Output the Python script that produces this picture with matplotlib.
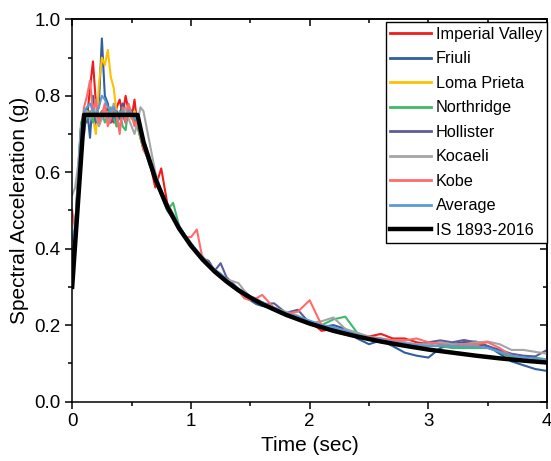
# plot.py
# response spectra of the selected ground motions vs the IS 1893-2016 design spectrum

import matplotlib
matplotlib.use('Agg')
import matplotlib.pyplot as plt
from matplotlib.ticker import MultipleLocator

plt.rcParams['font.family'] = ['Liberation Sans', 'DejaVu Sans']

# time grid (sec): 0.025 steps on the plateau, 0.05 to 1.6, then 0.1
period = [0, 0.025, 0.05, 0.075, 0.1, 0.125, 0.15, 0.175, 0.2, 0.225, 0.25, 0.275,
          0.3, 0.325, 0.35, 0.375, 0.4, 0.425, 0.45, 0.475, 0.5, 0.525, 0.55, 0.575, 0.6,
          0.65, 0.7, 0.75, 0.8, 0.85, 0.9, 0.95, 1.0, 1.05, 1.1, 1.15, 1.2, 1.25, 1.3,
          1.35, 1.4, 1.45, 1.5, 1.55, 1.6,
          1.7, 1.8, 1.9, 2.0, 2.1, 2.2, 2.3, 2.4, 2.5, 2.6, 2.7, 2.8, 2.9, 3.0, 3.1,
          3.2, 3.3, 3.4, 3.5, 3.6, 3.7, 3.8, 3.9, 4.0]

imperial_valley = [0.32, 0.40, 0.55, 0.70, 0.76, 0.74, 0.82, 0.89, 0.78, 0.74, 0.76, 0.75,
                   0.77, 0.74, 0.73, 0.77, 0.79, 0.75, 0.80, 0.76, 0.74, 0.79, 0.72, 0.69, 0.66,
                   0.63, 0.56, 0.61, 0.52, 0.49, 0.46, 0.43, 0.41, 0.39, 0.37, 0.36, 0.34, 0.33, 0.32,
                   0.305, 0.29, 0.28, 0.275, 0.265, 0.255,
                   0.245, 0.23, 0.215, 0.21, 0.185, 0.19, 0.18, 0.175, 0.17, 0.177, 0.165, 0.165, 0.155, 0.15, 0.155,
                   0.15, 0.155, 0.15, 0.145, 0.13, 0.115, 0.11, 0.105, 0.10]
friuli = [0.35, 0.42, 0.55, 0.72, 0.70, 0.77, 0.69, 0.80, 0.72, 0.78, 0.95, 0.80,
          0.78, 0.73, 0.76, 0.72, 0.75, 0.78, 0.73, 0.77, 0.76, 0.74, 0.73, 0.70, 0.67,
          0.62, 0.58, 0.54, 0.50, 0.48, 0.45, 0.43, 0.41, 0.39, 0.37, 0.355, 0.34, 0.325, 0.315,
          0.30, 0.29, 0.275, 0.265, 0.255, 0.25,
          0.245, 0.23, 0.22, 0.21, 0.195, 0.20, 0.19, 0.165, 0.15, 0.16, 0.145, 0.128, 0.12, 0.115, 0.14,
          0.15, 0.155, 0.157, 0.145, 0.125, 0.105, 0.095, 0.085, 0.08]
loma_prieta = [0.33, 0.42, 0.58, 0.72, 0.74, 0.76, 0.75, 0.74, 0.70, 0.83, 0.90, 0.88,
               0.92, 0.85, 0.82, 0.75, 0.74, 0.76, 0.75, 0.77, 0.74, 0.76, 0.74, 0.70, 0.67,
               0.64, 0.59, 0.55, 0.51, 0.48, 0.455, 0.43, 0.41, 0.39, 0.372, 0.355, 0.34, 0.327, 0.314,
               0.30, 0.29, 0.28, 0.27, 0.262, 0.254,
               0.24, 0.226, 0.213, 0.202, 0.192, 0.183, 0.175, 0.168, 0.162, 0.156, 0.15, 0.145, 0.14, 0.135, 0.131,
               0.127, 0.123, 0.119, 0.115, 0.112, 0.109, 0.106, 0.104, 0.101]
northridge = [0.38, 0.45, 0.60, 0.73, 0.75, 0.74, 0.76, 0.73, 0.75, 0.74, 0.76, 0.73,
              0.75, 0.77, 0.74, 0.72, 0.76, 0.72, 0.71, 0.77, 0.75, 0.73, 0.72, 0.69, 0.66,
              0.63, 0.59, 0.55, 0.50, 0.52, 0.46, 0.435, 0.41, 0.39, 0.375, 0.36, 0.345, 0.33, 0.315,
              0.305, 0.295, 0.285, 0.275, 0.265, 0.258,
              0.245, 0.23, 0.22, 0.205, 0.20, 0.215, 0.222, 0.18, 0.165, 0.16, 0.155, 0.15, 0.145, 0.145, 0.145,
              0.14, 0.14, 0.14, 0.14, 0.13, 0.115, 0.118, 0.115, 0.11]
hollister = [0.36, 0.45, 0.60, 0.72, 0.74, 0.73, 0.75, 0.76, 0.73, 0.75, 0.74, 0.76,
             0.75, 0.73, 0.75, 0.76, 0.74, 0.75, 0.73, 0.76, 0.75, 0.74, 0.73, 0.70, 0.67,
             0.63, 0.585, 0.545, 0.51, 0.48, 0.455, 0.43, 0.41, 0.39, 0.375, 0.368, 0.342, 0.362, 0.325,
             0.31, 0.295, 0.285, 0.275, 0.265, 0.255,
             0.257, 0.232, 0.24, 0.205, 0.195, 0.19, 0.18, 0.175, 0.165, 0.16, 0.155, 0.15, 0.145, 0.155, 0.16,
             0.155, 0.161, 0.155, 0.145, 0.135, 0.125, 0.12, 0.118, 0.135]
kocaeli = [0.54, 0.56, 0.62, 0.72, 0.75, 0.76, 0.74, 0.77, 0.75, 0.72, 0.74, 0.76,
           0.73, 0.75, 0.78, 0.74, 0.72, 0.75, 0.77, 0.74, 0.72, 0.70, 0.73, 0.77, 0.76,
           0.68, 0.60, 0.55, 0.51, 0.485, 0.46, 0.435, 0.415, 0.395, 0.38, 0.36, 0.345, 0.33, 0.32,
           0.315, 0.31, 0.29, 0.275, 0.27, 0.26,
           0.245, 0.235, 0.225, 0.205, 0.21, 0.22, 0.19, 0.18, 0.17, 0.165, 0.16, 0.155, 0.15, 0.15, 0.155,
           0.15, 0.15, 0.155, 0.157, 0.15, 0.135, 0.135, 0.13, 0.125]
kobe = [0.50, 0.45, 0.58, 0.70, 0.77, 0.80, 0.84, 0.76, 0.79, 0.73, 0.75, 0.78,
        0.72, 0.74, 0.77, 0.75, 0.70, 0.77, 0.73, 0.78, 0.75, 0.72, 0.74, 0.70, 0.66,
        0.63, 0.58, 0.55, 0.51, 0.48, 0.455, 0.43, 0.43, 0.45, 0.37, 0.36, 0.345, 0.33, 0.315,
        0.30, 0.29, 0.27, 0.265, 0.27, 0.279,
        0.245, 0.23, 0.235, 0.265, 0.20, 0.185, 0.18, 0.17, 0.17, 0.165, 0.16, 0.16, 0.165, 0.155, 0.15,
        0.145, 0.15, 0.15, 0.155, 0.14, 0.12, 0.115, 0.11, 0.105]
average = [0.42, 0.46, 0.58, 0.71, 0.76, 0.77, 0.78, 0.76, 0.75, 0.77, 0.80, 0.79,
           0.77, 0.76, 0.77, 0.75, 0.75, 0.76, 0.75, 0.76, 0.75, 0.74, 0.74, 0.71, 0.68,
           0.64, 0.59, 0.55, 0.515, 0.49, 0.46, 0.435, 0.415, 0.395, 0.375, 0.36, 0.345, 0.335, 0.32,
           0.305, 0.295, 0.285, 0.275, 0.265, 0.26,
           0.245, 0.232, 0.222, 0.212, 0.20, 0.195, 0.185, 0.175, 0.167, 0.163, 0.156, 0.152, 0.148, 0.145, 0.147,
           0.145, 0.145, 0.145, 0.14, 0.13, 0.12, 0.115, 0.112, 0.11]

# IS 1893-2016 design spectrum (medium soil)
is_period = [0, 0.1, 0.55, 0.6, 0.7, 0.8, 0.9, 1.0, 1.1, 1.2, 1.3, 1.4, 1.5, 1.6, 1.8,
             2.0, 2.2, 2.4, 2.6, 2.8, 3.0, 3.2, 3.4, 3.6, 3.8, 4.0]
is_code = [0.30, 0.75, 0.75, 0.68, 0.583, 0.51, 0.453, 0.408, 0.371, 0.34, 0.314, 0.291, 0.272, 0.255, 0.227,
           0.204, 0.185, 0.17, 0.157, 0.146, 0.136, 0.128, 0.12, 0.113, 0.107, 0.102]

records = [
    ('Imperial Valley', imperial_valley, '#ee1c1c'),
    ('Friuli', friuli, '#2f5f9c'),
    ('Loma Prieta', loma_prieta, '#ffc000'),
    ('Northridge', northridge, '#3dba6a'),
    ('Hollister', hollister, '#5c5c9c'),
    ('Kocaeli', kocaeli, '#a5a5a5'),
    ('Kobe', kobe, '#ff6b6b'),
    ('Average', average, '#5b9bd5'),
]

fig, ax = plt.subplots(figsize=(5.51, 4.61), dpi=100)
fig.subplots_adjust(left=0.131, right=0.993, bottom=0.129, top=0.958)

for name, vals, col in records:
    ax.plot(period, vals, color=col, lw=1.5, label=name)
ax.plot(is_period, is_code, color='black', lw=3.2, label='IS 1893-2016')

ax.set_xlim(0, 4)
ax.set_ylim(0, 1.0)
ax.xaxis.set_major_locator(MultipleLocator(1))
ax.xaxis.set_minor_locator(MultipleLocator(0.5))
ax.yaxis.set_major_locator(MultipleLocator(0.2))
ax.yaxis.set_minor_locator(MultipleLocator(0.1))
ax.yaxis.set_major_formatter(plt.FormatStrFormatter('%.1f'))
ax.tick_params(which='major', direction='out', length=5, width=1.1, labelsize=13.5)
ax.tick_params(which='minor', direction='out', length=3, width=1.1)

# mirrored inward ticks on top and right
top = ax.secondary_xaxis('top')
top.xaxis.set_major_locator(MultipleLocator(1))
top.xaxis.set_minor_locator(MultipleLocator(0.5))
top.tick_params(which='major', direction='in', length=5, width=1.1, labeltop=False)
top.tick_params(which='minor', direction='in', length=3, width=1.1)
right = ax.secondary_yaxis('right')
right.yaxis.set_major_locator(MultipleLocator(0.2))
right.yaxis.set_minor_locator(MultipleLocator(0.1))
right.tick_params(which='major', direction='in', length=5, width=1.1, labelright=False)
right.tick_params(which='minor', direction='in', length=3, width=1.1)

for sp in list(ax.spines.values()) + [top.spines['top'], right.spines['right']]:
    sp.set_linewidth(1.1)

plt.xlabel('Time (sec)', fontsize=15)
plt.ylabel('Spectral Acceleration (g)', fontsize=15)

leg = ax.legend(loc='upper right', bbox_to_anchor=(1.0, 0.993), fontsize=11.7, frameon=True,
                fancybox=False, edgecolor='black', framealpha=1, borderaxespad=0.0,
                handlelength=2.5, handletextpad=0.3, labelspacing=0.585, borderpad=0.3)
leg.get_frame().set_linewidth(1.0)
for line in leg.get_lines():
    line.set_linewidth(2.0)
leg.get_lines()[-1].set_linewidth(3.2)

plt.savefig('out.png', dpi=100)
